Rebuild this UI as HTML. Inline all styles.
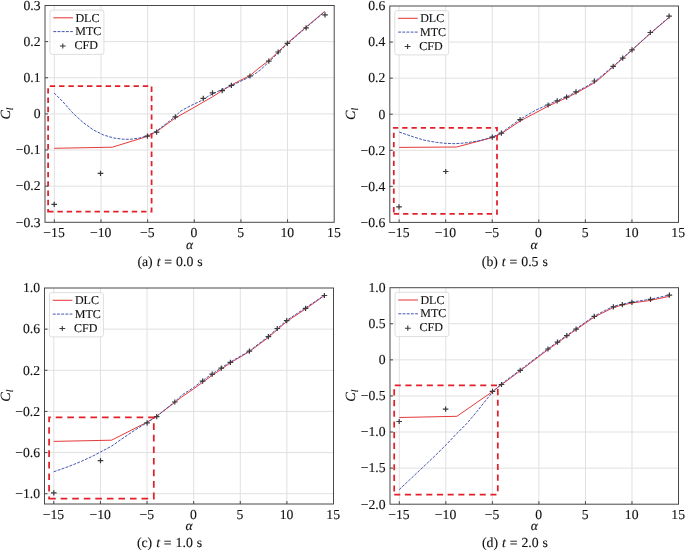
<!DOCTYPE html>
<html><head><meta charset="utf-8"><title>Cl vs alpha</title>
<style>
html,body{margin:0;padding:0;background:#fff;}
body{width:685px;height:551px;overflow:hidden;}
svg{display:block;will-change:transform;}
text{font-family:"Liberation Serif",serif;fill:#111;stroke:#111;stroke-width:0.12px;text-rendering:geometricPrecision;}
.tk{font-size:13.7px;}
.lg{font-size:12px;}
.al{font-size:13.5px;font-style:italic;}
.yl{font-size:14px;font-style:italic;}
.sub{font-size:9.5px;}
.cap{font-size:13.8px;word-spacing:0.45px;}
</style></head><body>
<svg width="685" height="551" viewBox="0 0 685 551">
<rect width="685" height="551" fill="#fff"/>
<path d="M54.33 5.5V222.3M100.97 5.5V222.3M147.62 5.5V222.3M194.26 5.5V222.3M240.91 5.5V222.3M287.55 5.5V222.3M45 186.17H334.2M45 150.03H334.2M45 113.9H334.2M45 77.77H334.2M45 41.63H334.2" stroke="#e0e0e0" stroke-width="1" fill="none"/>
<polyline points="54.2,148.3 112.3,147.2 147.4,136.4 156.6,131.6 175.3,118 194.3,107.3 203.4,102 212.5,96.8 222.2,90.6 231.4,85 240.3,80.4 250,75.6 253,73 260,67.2 268.8,60.6 287.4,43.1 306.1,27 324.6,11.5" fill="none" stroke="#e63a3a" stroke-width="1" stroke-linejoin="round"/>
<polyline points="54.2,93 62.9,101.8 73,113.2 83.2,122.6 93.3,129.9 103.5,135 113.7,138 123.1,139.2 130,139.3 140,137.9 147.4,135.7 156.6,131 165,124.5 175.3,116.6 180,111.5 190,106 200,101.3 210,95.2 220,90.4 231.4,85.9 240.3,81.4 250,76.8 254.2,74.4 260,70.3 268.8,62 287.4,43.8 306.1,27.6 324.6,11.8" fill="none" stroke="#4656b2" stroke-width="1" stroke-dasharray="2.9 1.3" stroke-linejoin="round"/>
<path d="M51.4 204.3h5.6M54.2 201.7v5.2M97.7 173.4h5.6M100.5 170.8v5.2M144.6 136.2h5.6M147.4 133.6v5.2M153.8 132.1h5.6M156.6 129.5v5.2M172.5 116.9h5.6M175.3 114.3v5.2M200.5 98.4h5.6M203.3 95.8v5.2M209.7 92.9h5.6M212.5 90.3v5.2M219.4 90.6h5.6M222.2 88v5.2M228.6 85.3h5.6M231.4 82.7v5.2M247.2 76h5.6M250 73.4v5.2M266 61.1h5.6M268.8 58.5v5.2M275.4 52h5.6M278.2 49.4v5.2M284.6 43.4h5.6M287.4 40.8v5.2M303.3 27.9h5.6M306.1 25.3v5.2M322.2 14.8h5.6M325 12.2v5.2" stroke="#3a3a3a" stroke-width="1.2" fill="none"/>
<path d="M48.1 211.6H151.6V86H48.1Z" fill="none" stroke="#e3202a" stroke-width="1.75" stroke-dasharray="5.4 3.9"/>
<path d="M54.33 222.3v-3M100.97 222.3v-3M147.62 222.3v-3M194.26 222.3v-3M240.91 222.3v-3M287.55 222.3v-3M45 186.17h3M45 150.03h3M45 113.9h3M45 77.77h3M45 41.63h3" stroke="#484848" stroke-width="1" fill="none"/>
<rect x="45" y="5.5" width="289.2" height="216.8" fill="none" stroke="#484848" stroke-width="1"/>
<rect x="50" y="10.1" width="53.9" height="44.3" rx="2.2" fill="#fff" fill-opacity="0.8" stroke="#dadada" stroke-width="0.9"/>
<path d="M53.3 17.8h19.6" stroke="#e63a3a" stroke-width="1.05"/>
<path d="M53.3 31.6h19.6" stroke="#4656b2" stroke-width="1" stroke-dasharray="2.9 1.3"/>
<path d="M59.9 46h5.8M62.8 43.4v5.2" stroke="#3a3a3a" stroke-width="1.1"/>
<text class="lg" x="75.4" y="21.5">DLC</text>
<text class="lg" x="75.3" y="35.1">MTC</text>
<text class="lg" x="74.5" y="49.2">CFD</text>
<text class="tk" x="54.03" y="236.8" text-anchor="middle">−15</text>
<text class="tk" x="100.67" y="236.8" text-anchor="middle">−10</text>
<text class="tk" x="147.32" y="236.8" text-anchor="middle">−5</text>
<text class="tk" x="193.96" y="236.8" text-anchor="middle">0</text>
<text class="tk" x="240.61" y="236.8" text-anchor="middle">5</text>
<text class="tk" x="287.25" y="236.8" text-anchor="middle">10</text>
<text class="tk" x="333.9" y="236.8" text-anchor="middle">15</text>
<text class="tk" x="40.5" y="226.6" text-anchor="end">−0.3</text>
<text class="tk" x="40.5" y="190.47" text-anchor="end">−0.2</text>
<text class="tk" x="40.5" y="154.33" text-anchor="end">−0.1</text>
<text class="tk" x="40.5" y="118.2" text-anchor="end">0</text>
<text class="tk" x="40.5" y="82.07" text-anchor="end">0.1</text>
<text class="tk" x="40.5" y="45.93" text-anchor="end">0.2</text>
<text class="tk" x="40.5" y="9.8" text-anchor="end">0.3</text>
<text class="al" x="189.6" y="249.2" text-anchor="middle">α</text>
<text class="yl" transform="translate(10.3 113.6) rotate(-90)" text-anchor="middle">C<tspan class="sub" dy="2.7">l</tspan></text>
<text class="cap" x="170" y="266" text-anchor="middle">(a) <tspan font-style="italic">t</tspan> = 0.0 s</text>
<path d="M399.11 6V222.4M445.68 6V222.4M492.24 6V222.4M538.81 6V222.4M585.37 6V222.4M631.94 6V222.4M389.8 186.33H678.5M389.8 150.27H678.5M389.8 114.2H678.5M389.8 78.13H678.5M389.8 42.07H678.5" stroke="#e0e0e0" stroke-width="1" fill="none"/>
<polyline points="399.2,147.4 456.6,147 492.3,137.6 501.4,133.6 520.1,121 548.1,106.2 557.3,101.8 566.8,97.7 576.2,93 585.9,87.7 594.5,82.7 597.7,80.4 613.2,66.8 632,50.2 650.3,33.5 669.1,17.5" fill="none" stroke="#e63a3a" stroke-width="1" stroke-linejoin="round"/>
<polyline points="399.2,132 413.4,136.9 425,140.4 436.7,142.4 446.1,143.4 455.4,143.7 464.7,143 470,142.2 480,140.6 492.3,137 501.4,133 510,126.5 520.1,119.4 535,110.5 548.1,104.6 557.3,100.4 566.8,96.8 576.2,91.8 585.9,86.8 594.5,81.6 599.5,77.7 613.2,66.2 632,49.8 650.3,33.2 669.1,17.2" fill="none" stroke="#4656b2" stroke-width="1" stroke-dasharray="2.9 1.3" stroke-linejoin="round"/>
<path d="M396.2 206.9h5.6M399 204.3v5.2M442.9 171.5h5.6M445.7 168.9v5.2M489.5 137.2h5.6M492.3 134.6v5.2M498.6 133.1h5.6M501.4 130.5v5.2M517.3 119.6h5.6M520.1 117v5.2M545.3 105h5.6M548.1 102.4v5.2M554.4 100.9h5.6M557.2 98.3v5.2M563.8 97.2h5.6M566.6 94.6v5.2M573.2 91.8h5.6M576 89.2v5.2M591.6 81h5.6M594.4 78.4v5.2M610.4 66.3h5.6M613.2 63.7v5.2M619.9 58.1h5.6M622.7 55.5v5.2M629.2 49.9h5.6M632 47.3v5.2M647.5 32.5h5.6M650.3 29.9v5.2M666.3 16.1h5.6M669.1 13.5v5.2" stroke="#3a3a3a" stroke-width="1.2" fill="none"/>
<path d="M393.8 213.9H497V127.9H393.8Z" fill="none" stroke="#e3202a" stroke-width="1.75" stroke-dasharray="5.3 3.99"/>
<path d="M399.11 222.4v-3M445.68 222.4v-3M492.24 222.4v-3M538.81 222.4v-3M585.37 222.4v-3M631.94 222.4v-3M389.8 186.33h3M389.8 150.27h3M389.8 114.2h3M389.8 78.13h3M389.8 42.07h3" stroke="#484848" stroke-width="1" fill="none"/>
<rect x="389.8" y="6" width="288.7" height="216.4" fill="none" stroke="#484848" stroke-width="1"/>
<rect x="394.8" y="10.6" width="53.9" height="44.3" rx="2.2" fill="#fff" fill-opacity="0.8" stroke="#dadada" stroke-width="0.9"/>
<path d="M398.1 18.3h19.6" stroke="#e63a3a" stroke-width="1.05"/>
<path d="M398.1 32.1h19.6" stroke="#4656b2" stroke-width="1" stroke-dasharray="2.9 1.3"/>
<path d="M404.7 46.5h5.8M407.6 43.9v5.2" stroke="#3a3a3a" stroke-width="1.1"/>
<text class="lg" x="420.2" y="22">DLC</text>
<text class="lg" x="420.1" y="35.6">MTC</text>
<text class="lg" x="419.3" y="49.7">CFD</text>
<text class="tk" x="398.81" y="236.9" text-anchor="middle">−15</text>
<text class="tk" x="445.38" y="236.9" text-anchor="middle">−10</text>
<text class="tk" x="491.94" y="236.9" text-anchor="middle">−5</text>
<text class="tk" x="538.51" y="236.9" text-anchor="middle">0</text>
<text class="tk" x="585.07" y="236.9" text-anchor="middle">5</text>
<text class="tk" x="631.64" y="236.9" text-anchor="middle">10</text>
<text class="tk" x="678.2" y="236.9" text-anchor="middle">15</text>
<text class="tk" x="385.3" y="226.7" text-anchor="end">−0.6</text>
<text class="tk" x="385.3" y="190.63" text-anchor="end">−0.4</text>
<text class="tk" x="385.3" y="154.57" text-anchor="end">−0.2</text>
<text class="tk" x="385.3" y="118.5" text-anchor="end">0</text>
<text class="tk" x="385.3" y="82.43" text-anchor="end">0.2</text>
<text class="tk" x="385.3" y="46.37" text-anchor="end">0.4</text>
<text class="tk" x="385.3" y="10.3" text-anchor="end">0.6</text>
<text class="al" x="534.15" y="249.3" text-anchor="middle">α</text>
<text class="yl" transform="translate(355.1 113.9) rotate(-90)" text-anchor="middle">C<tspan class="sub" dy="2.7">l</tspan></text>
<text class="cap" x="514.8" y="266.1" text-anchor="middle">(b) <tspan font-style="italic">t</tspan> = 0.5 s</text>
<path d="M53.82 288V504M100.44 288V504M147.05 288V504M193.66 288V504M240.27 288V504M286.89 288V504M44.5 493.71H333.5M44.5 452.57H333.5M44.5 411.43H333.5M44.5 370.29H333.5M44.5 329.14H333.5" stroke="#e0e0e0" stroke-width="1" fill="none"/>
<polyline points="53.7,441.4 111.5,440.2 147.1,422.2 156.7,416.2 174.8,402.4 181.8,396.9 193.6,388.9 202.6,382.3 212,375.5 221.3,369.2 230.4,362.8 249.4,351.6 268.4,337.4 286.7,321.5 305.6,308.9 324.4,295.6" fill="none" stroke="#e63a3a" stroke-width="1" stroke-linejoin="round"/>
<polyline points="53.7,471.8 67,467.1 79.7,462.1 92.4,456.3 100.7,451.9 111.5,446.2 124.2,437.3 135,430 147.1,422.6 156.7,416.4 174.8,401.7 181.8,395.1 193.6,387.5 202.6,380.6 212,374 221.3,367.8 230.4,362 249.4,351 268.4,336.3 286.7,320.4 305.6,307.8 324.4,295.3" fill="none" stroke="#4656b2" stroke-width="1" stroke-dasharray="2.9 1.3" stroke-linejoin="round"/>
<path d="M51 492.8h5.6M53.8 490.2v5.2M97.7 460.6h5.6M100.5 458v5.2M144.3 422.9h5.6M147.1 420.3v5.2M153.9 416.7h5.6M156.7 414.1v5.2M172 402h5.6M174.8 399.4v5.2M199.8 381.2h5.6M202.6 378.6v5.2M209.4 374.1h5.6M212.2 371.5v5.2M218.5 368.1h5.6M221.3 365.5v5.2M227.6 362.3h5.6M230.4 359.7v5.2M246.6 351.2h5.6M249.4 348.6v5.2M265.6 336.7h5.6M268.4 334.1v5.2M274.5 328.5h5.6M277.3 325.9v5.2M283.9 320.7h5.6M286.7 318.1v5.2M302.8 308.3h5.6M305.6 305.7v5.2M321.6 295.5h5.6M324.4 292.9v5.2" stroke="#3a3a3a" stroke-width="1.2" fill="none"/>
<path d="M49.1 498.5H153.8V417.4H49.1Z" fill="none" stroke="#e3202a" stroke-width="1.75" stroke-dasharray="6.65 4.9"/>
<path d="M53.82 504v-3M100.44 504v-3M147.05 504v-3M193.66 504v-3M240.27 504v-3M286.89 504v-3M44.5 493.71h3M44.5 452.57h3M44.5 411.43h3M44.5 370.29h3M44.5 329.14h3" stroke="#484848" stroke-width="1" fill="none"/>
<rect x="44.5" y="288" width="289" height="216" fill="none" stroke="#484848" stroke-width="1"/>
<rect x="49.5" y="292.6" width="53.9" height="44.3" rx="2.2" fill="#fff" fill-opacity="0.8" stroke="#dadada" stroke-width="0.9"/>
<path d="M52.8 300.3h19.6" stroke="#e63a3a" stroke-width="1.05"/>
<path d="M52.8 314.1h19.6" stroke="#4656b2" stroke-width="1" stroke-dasharray="2.9 1.3"/>
<path d="M59.4 328.5h5.8M62.3 325.9v5.2" stroke="#3a3a3a" stroke-width="1.1"/>
<text class="lg" x="74.9" y="304">DLC</text>
<text class="lg" x="74.8" y="317.6">MTC</text>
<text class="lg" x="74" y="331.7">CFD</text>
<text class="tk" x="53.52" y="518.5" text-anchor="middle">−15</text>
<text class="tk" x="100.14" y="518.5" text-anchor="middle">−10</text>
<text class="tk" x="146.75" y="518.5" text-anchor="middle">−5</text>
<text class="tk" x="193.36" y="518.5" text-anchor="middle">0</text>
<text class="tk" x="239.97" y="518.5" text-anchor="middle">5</text>
<text class="tk" x="286.59" y="518.5" text-anchor="middle">10</text>
<text class="tk" x="333.2" y="518.5" text-anchor="middle">15</text>
<text class="tk" x="40" y="498.01" text-anchor="end">−1.0</text>
<text class="tk" x="40" y="456.87" text-anchor="end">−0.6</text>
<text class="tk" x="40" y="415.73" text-anchor="end">−0.2</text>
<text class="tk" x="40" y="374.59" text-anchor="end">0.2</text>
<text class="tk" x="40" y="333.44" text-anchor="end">0.6</text>
<text class="tk" x="40" y="292.3" text-anchor="end">1.0</text>
<text class="al" x="189" y="530" text-anchor="middle">α</text>
<text class="yl" transform="translate(9.8 395.7) rotate(-90)" text-anchor="middle">C<tspan class="sub" dy="2.7">l</tspan></text>
<text class="cap" x="169.5" y="546.8" text-anchor="middle">(c) <tspan font-style="italic">t</tspan> = 1.0 s</text>
<path d="M399.31 287.7V504.2M445.84 287.7V504.2M492.37 287.7V504.2M538.9 287.7V504.2M585.44 287.7V504.2M631.97 287.7V504.2M390 468.12H678.5M390 432.03H678.5M390 395.95H678.5M390 359.87H678.5M390 323.78H678.5" stroke="#e0e0e0" stroke-width="1" fill="none"/>
<polyline points="399.2,417.5 456.9,416.3 492.4,391.7 501.4,384.8 520.2,370.8 548,349.6 576.1,329.6 594.3,317 613.4,307.5 622.3,305 631.9,303 650.5,300.4 669.4,296.3" fill="none" stroke="#e63a3a" stroke-width="1" stroke-linejoin="round"/>
<polyline points="399.2,489.6 413.8,475.9 435.6,455.2 446.5,444.4 456.3,434 467.2,423.1 478.1,410.1 485.8,400.3 492.3,392.4 497.7,387 501.4,384 520.2,370 548,348.7 576.1,328.8 594.3,316 613.4,306.2 622.3,304.2 631.9,302 650.5,299.3 669.4,295" fill="none" stroke="#4656b2" stroke-width="1" stroke-dasharray="2.9 1.3" stroke-linejoin="round"/>
<path d="M396.4 421.5h5.6M399.2 418.9v5.2M442.8 409.2h5.6M445.6 406.6v5.2M489.7 391.4h5.6M492.5 388.8v5.2M498.7 384.5h5.6M501.5 381.9v5.2M517.4 370.3h5.6M520.2 367.7v5.2M545.2 349h5.6M548 346.4v5.2M554.7 342.2h5.6M557.5 339.6v5.2M564 335.6h5.6M566.8 333v5.2M573.3 329.1h5.6M576.1 326.5v5.2M591.5 316.4h5.6M594.3 313.8v5.2M610.6 306.8h5.6M613.4 304.2v5.2M619.5 304.7h5.6M622.3 302.1v5.2M629.1 302.4h5.6M631.9 299.8v5.2M647.7 299.4h5.6M650.5 296.8v5.2M666.6 295.1h5.6M669.4 292.5v5.2" stroke="#3a3a3a" stroke-width="1.2" fill="none"/>
<path d="M394.2 494.6H497.8V385.3H394.2Z" fill="none" stroke="#e3202a" stroke-width="1.75" stroke-dasharray="6.1 4.585"/>
<path d="M399.31 504.2v-3M445.84 504.2v-3M492.37 504.2v-3M538.9 504.2v-3M585.44 504.2v-3M631.97 504.2v-3M390 468.12h3M390 432.03h3M390 395.95h3M390 359.87h3M390 323.78h3" stroke="#484848" stroke-width="1" fill="none"/>
<rect x="390" y="287.7" width="288.5" height="216.5" fill="none" stroke="#484848" stroke-width="1"/>
<rect x="395" y="292.3" width="53.9" height="44.3" rx="2.2" fill="#fff" fill-opacity="0.8" stroke="#dadada" stroke-width="0.9"/>
<path d="M398.3 300h19.6" stroke="#e63a3a" stroke-width="1.05"/>
<path d="M398.3 313.8h19.6" stroke="#4656b2" stroke-width="1" stroke-dasharray="2.9 1.3"/>
<path d="M404.9 328.2h5.8M407.8 325.6v5.2" stroke="#3a3a3a" stroke-width="1.1"/>
<text class="lg" x="420.4" y="303.7">DLC</text>
<text class="lg" x="420.3" y="317.3">MTC</text>
<text class="lg" x="419.5" y="331.4">CFD</text>
<text class="tk" x="399.01" y="518.7" text-anchor="middle">−15</text>
<text class="tk" x="445.54" y="518.7" text-anchor="middle">−10</text>
<text class="tk" x="492.07" y="518.7" text-anchor="middle">−5</text>
<text class="tk" x="538.6" y="518.7" text-anchor="middle">0</text>
<text class="tk" x="585.14" y="518.7" text-anchor="middle">5</text>
<text class="tk" x="631.67" y="518.7" text-anchor="middle">10</text>
<text class="tk" x="678.2" y="518.7" text-anchor="middle">15</text>
<text class="tk" x="385.5" y="508.5" text-anchor="end">−2.0</text>
<text class="tk" x="385.5" y="472.42" text-anchor="end">−1.5</text>
<text class="tk" x="385.5" y="436.33" text-anchor="end">−1.0</text>
<text class="tk" x="385.5" y="400.25" text-anchor="end">−0.5</text>
<text class="tk" x="385.5" y="364.17" text-anchor="end">0</text>
<text class="tk" x="385.5" y="328.08" text-anchor="end">0.5</text>
<text class="tk" x="385.5" y="292" text-anchor="end">1.0</text>
<text class="al" x="534.25" y="530.2" text-anchor="middle">α</text>
<text class="yl" transform="translate(355.3 395.65) rotate(-90)" text-anchor="middle">C<tspan class="sub" dy="2.7">l</tspan></text>
<text class="cap" x="515" y="547" text-anchor="middle">(d) <tspan font-style="italic">t</tspan> = 2.0 s</text>
</svg>
</body></html>
